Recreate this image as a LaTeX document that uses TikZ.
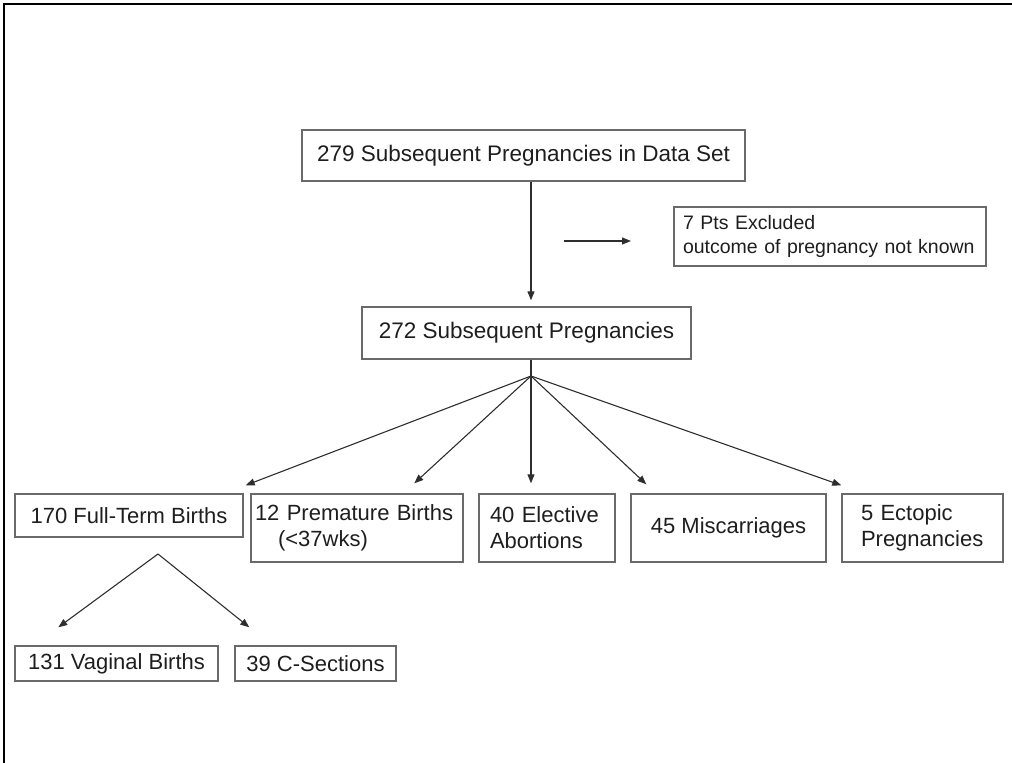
\documentclass[tikz,border=0pt]{standalone}
\usepackage{fontspec}
\setmainfont{Liberation Sans}
\usetikzlibrary{arrows.meta}
\definecolor{boxline}{HTML}{6A6A6A}
\definecolor{arrowline}{HTML}{2E2E2E}
\definecolor{txt}{HTML}{1E1E1E}
\tikzset{
  box/.style={draw=boxline, line width=1.4pt, text=txt, inner ysep=0pt, font=\fontsize{22}{26}\selectfont},
  smallbox/.style={box, font=\fontsize{19.5}{23.5}\selectfont},
  conn/.style={draw=arrowline, line width=1.1pt, -{Triangle[length=9pt,width=7pt]}},
  frameline/.style={draw=black, line width=2pt}
}
\begin{document}
\begin{tikzpicture}[x=1pt,y=-1pt]
\useasboundingbox (0,0) rectangle (1012,763);
\draw[frameline] (4,763) -- (4,4) -- (1012,4);

\node[box, minimum width=443pt, minimum height=51pt, font=\fontsize{22.5}{27}\selectfont] (top) at (523.5,155.5) {279 Subsequent Pregnancies in Data Set};
\node[smallbox, minimum width=312pt, minimum height=59pt, align=left, text width=294pt, inner xsep=9pt] (exc) at (830,236.5) {7 Pts Excluded\\outcome of pregnancy not known};
\node[box, minimum width=329pt, minimum height=52pt, font=\fontsize{22.5}{27}\selectfont] (mid) at (526.5,333) {272 Subsequent Pregnancies};

\node[box, minimum width=228pt, minimum height=43pt] (ft) at (129,515.5) {170 Full-Term Births};
\node[box, minimum width=212pt, minimum height=68pt, align=left, text width=204pt, inner xsep=4pt] (pb) at (357,528) {12 Premature Births\\\hspace*{23pt}(<37wks)};
\node[box, minimum width=136pt, minimum height=68pt, align=left, text width=114pt, inner xsep=11pt] (ea) at (547,528) {40 Elective\\Abortions};
\node[box, minimum width=195pt, minimum height=68pt] (mc) at (728.5,528) {45 Miscarriages};
\node[box, minimum width=161pt, minimum height=68pt, align=left, text width=123pt, inner xsep=19pt] (ep) at (922.5,528) {5 Ectopic\\Pregnancies};

\node[box, minimum width=203pt, minimum height=35pt] (vb) at (116.5,663.5) {131 Vaginal Births};
\node[box, minimum width=161pt, minimum height=35pt] (cs) at (315.5,663.5) {39 C-Sections};

\coordinate (fan) at (531,376);
\coordinate (fan2) at (158,554);
\coordinate (exa) at (564,241);
\coordinate (exb) at (631,241);

\draw[conn] (top.south -| fan) -- ([yshift=6pt]mid.north -| fan);
\draw[conn] (exa) -- (exb);

\draw[draw=arrowline, line width=1.1pt] (mid.south -| fan) -- (fan);
\draw[conn] (fan) -- ([xshift=2pt,yshift=8pt]ft.north east);
\draw[conn] (fan) -- ([xshift=164pt,yshift=10pt]pb.north west);
\draw[conn] (fan) -- ([yshift=10pt]ea.north -| fan);
\draw[conn] (fan) -- ([xshift=16pt,yshift=9pt]mc.north west);
\draw[conn] (fan) -- ([yshift=8pt]ep.north west);

\draw[conn] (fan2) -- ([xshift=44pt,yshift=18pt]vb.north west);
\draw[conn] (fan2) -- ([xshift=15pt,yshift=18pt]cs.north west);
\end{tikzpicture}
\end{document}
